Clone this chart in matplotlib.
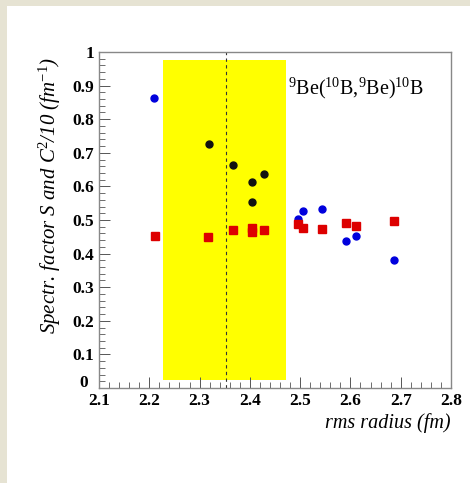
import matplotlib.pyplot as plt
from matplotlib import ticker
from matplotlib.patches import Rectangle

# blue points
blue_x = [2.21, 2.495, 2.505, 2.543, 2.591, 2.611, 2.687]
blue_y = [0.862, 0.503, 0.528, 0.533, 0.438, 0.452, 0.381]

# black points
black_x = [2.319, 2.366, 2.405, 2.429, 2.405]
black_y = [0.726, 0.664, 0.614, 0.636, 0.553]

# red squares
red_x = [2.211, 2.317, 2.366, 2.405, 2.405, 2.429, 2.495, 2.505, 2.543, 2.591, 2.611, 2.687]
red_y = [0.453, 0.450, 0.470, 0.475, 0.463, 0.470, 0.488, 0.477, 0.472, 0.492, 0.482, 0.497]

band = [2.228, 2.472]
band_y = [0.025, 0.977]
dash_x = 2.352

plt.rcParams['font.family'] = ['Liberation Serif', 'DejaVu Serif']
plt.rcParams['mathtext.fontset'] = 'custom'
plt.rcParams['mathtext.rm'] = 'Liberation Serif'
plt.rcParams['mathtext.it'] = 'Liberation Serif:italic'

fig = plt.figure(figsize=(4.70, 4.83), dpi=100)
fig.patch.set_facecolor('#e6e3d3')
fig.patches.append(Rectangle((7 / 470, 0), 1, 1 - 6 / 483, transform=fig.transFigure,
                             facecolor='white', edgecolor='none', zorder=-5))

ax = fig.add_axes([99 / 470, 1 - 388 / 483, 352 / 470, 336 / 483])
ax.set_xlim(2.1, 2.8)
ax.set_ylim(0, 1)

ax.add_patch(Rectangle((band[0], band_y[0]), band[1] - band[0], band_y[1] - band_y[0],
                       facecolor='#ffff00', edgecolor='none', zorder=1))
ax.axvline(dash_x, color='#333333', linestyle=(0, (3, 3)), linewidth=0.8, zorder=2)

ax.plot(blue_x, blue_y, 'o', color='#0000dd', markersize=5, zorder=3)
ax.plot(black_x, black_y, 'o', color='#111111', markersize=5, zorder=3)
ax.plot(red_x, red_y, 's', color='#dd0000', markersize=5.5, zorder=3)

ax.text(0.538, 0.893, r'$\mathrm{^{9}}$Be($\mathrm{^{10}}$B,$\mathrm{^{9}}$Be)$\mathrm{^{10}}$B',
        transform=ax.transAxes, fontsize=14.5, va='center', ha='left')

ax.xaxis.set_major_locator(ticker.MultipleLocator(0.1))
ax.xaxis.set_minor_locator(ticker.MultipleLocator(0.02))
ax.yaxis.set_major_locator(ticker.MultipleLocator(0.1))
ax.yaxis.set_minor_locator(ticker.MultipleLocator(0.02))
ax.yaxis.set_major_formatter(ticker.FuncFormatter(
    lambda v, p: '' if abs(v) < 1e-9 else '{:g}'.format(round(v, 2))))
ax.tick_params(which='both', direction='in', colors='#555555', labelcolor='black',
               labelsize=12.5)
ax.tick_params(which='major', length=8, width=0.7)
ax.tick_params(which='minor', length=4, width=0.6)
for lab in ax.get_xticklabels() + ax.get_yticklabels():
    lab.set_fontweight('bold')
for s in ax.spines.values():
    s.set_color('#888888')
    s.set_linewidth(1.0)

# ROOT-style zero label at the corner
fig.text(84 / 470, 1 - 383 / 483, '0', ha='center', va='center', fontsize=12.5,
         fontweight='bold')

fig.text(451 / 470, 1 - 423 / 483, 'rms radius (fm)', ha='right', va='center',
         fontsize=14.5, style='italic')
fig.text(50 / 470, 1 - 195 / 483, r'Spectr. factor S and C$\mathit{^{2}}$/10 (fm$\mathit{^{-1}}$)',
         rotation=90, ha='center', va='center', fontsize=15, style='italic')

fig.savefig('out.png', dpi=100, facecolor=fig.get_facecolor())
